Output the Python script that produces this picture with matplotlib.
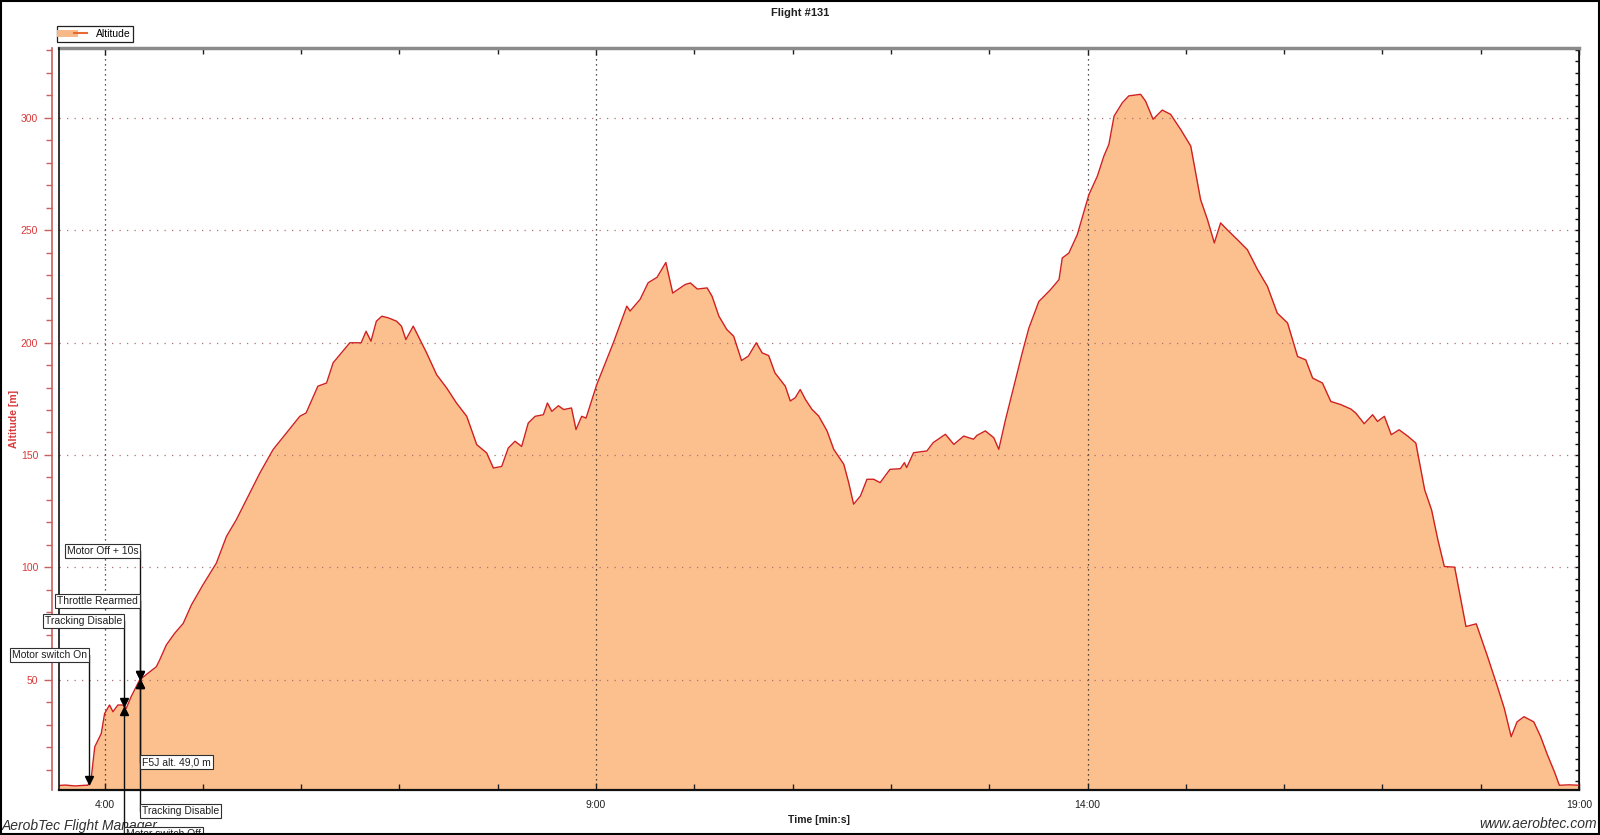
import numpy as np
import matplotlib
matplotlib.use('Agg')
import matplotlib.pyplot as plt
from matplotlib.ticker import MultipleLocator, FixedLocator, FuncFormatter
from matplotlib.lines import Line2D
from matplotlib.legend_handler import HandlerTuple
import matplotlib.transforms as mtransforms

# ---------------- data ----------------
time_min = [3.536, 3.60, 3.70, 3.80, 3.83, 3.865, 3.90, 3.966, 4.00, 4.05, 4.085, 4.135, 4.187, 4.22, 4.27,
            4.356, 4.44, 4.526, 4.56, 4.628, 4.713, 4.80, 4.883, 5.00, 5.137, 5.24, 5.34, 5.477, 5.58,
            5.714, 5.85, 5.986, 6.05, 6.17, 6.258, 6.325, 6.495, 6.61, 6.66, 6.71, 6.765, 6.82, 6.886,
            6.97, 7.02, 7.065, 7.14, 7.208, 7.276, 7.378, 7.48, 7.58, 7.684, 7.786, 7.887, 7.955, 8.04,
            8.107, 8.175, 8.243, 8.31, 8.38, 8.464, 8.505, 8.55, 8.617, 8.67, 8.75, 8.796, 8.854, 8.898,
            9.007, 9.176, 9.313, 9.346, 9.448, 9.53, 9.62, 9.71, 9.78, 9.906, 9.96, 10.03, 10.13, 10.18,
            10.25, 10.33, 10.40, 10.48, 10.55, 10.63, 10.69, 10.756, 10.82, 10.925, 10.976, 11.027,
            11.077, 11.13, 11.196, 11.265, 11.35, 11.418, 11.52, 11.57, 11.62, 11.69, 11.756, 11.824,
            11.89, 11.99, 12.096, 12.137, 12.16, 12.23, 12.366, 12.43, 12.554, 12.64, 12.74, 12.84,
            12.875, 12.96, 13.046, 13.097, 13.165, 13.25, 13.335, 13.403, 13.505, 13.54, 13.623, 13.71,
            13.743, 13.81, 13.896, 14.014, 14.10, 14.166, 14.217, 14.27, 14.355, 14.42, 14.54, 14.59,
            14.667, 14.76, 14.845, 14.947, 15.05, 15.15, 15.22, 15.29, 15.354, 15.42, 15.524, 15.626,
            15.73, 15.83, 15.93, 16.035, 16.137, 16.22, 16.29, 16.39, 16.475, 16.577, 16.68, 16.73,
            16.815, 16.90, 16.95, 17.02, 17.09, 17.17, 17.26, 17.34, 17.43, 17.50, 17.564, 17.63,
            17.735, 17.85, 17.955, 18.07, 18.17, 18.24, 18.31, 18.37, 18.44, 18.54, 18.61, 18.68,
            18.75, 18.80, 18.90, 19.00]
altitude_m = [3.0, 3.2, 2.8, 3.1, 3.1, 6.8, 20.2, 26.1, 35.0, 38.8, 35.8, 38.8, 38.8, 37.3, 42.5,
              49.9, 52.9, 55.8, 58.8, 65.5, 70.7, 75.1, 83.3, 92.2, 101.9, 113.8, 121.2, 133.1, 142.0,
              152.4, 159.8, 167.2, 168.7, 180.6, 182.0, 191.0, 199.9, 199.9, 205.0, 200.6, 209.5, 211.7, 211.0,
              209.5, 207.3, 201.3, 207.3, 201.3, 195.4, 185.7, 179.8, 173.1, 167.2, 154.6, 150.9, 144.2, 144.9,
              153.1, 156.1, 153.8, 164.2, 167.2, 167.9, 173.1, 169.4, 171.9, 170.2, 170.9, 161.3, 167.2, 166.4,
              181.3, 199.9, 216.2, 214.0, 219.2, 226.6, 229.0, 235.6, 222.0, 225.8, 226.5, 223.8, 224.3, 220.6,
              211.7, 205.8, 202.8, 192.0, 194.0, 199.9, 195.4, 194.2, 186.5, 180.6, 174.0, 175.5,
              179.1, 174.7, 170.3, 167.3, 160.7, 152.5, 145.9, 137.7, 128.1, 131.8, 139.2, 139.2,
              137.7, 143.6, 143.9, 146.6, 144.4, 151.0, 151.8, 155.5, 159.2, 154.7, 158.4, 157.0,
              158.7, 160.7, 157.7, 152.5, 165.6, 180.4, 195.3, 206.4, 218.3, 219.8, 223.5, 228.0,
              237.6, 239.8, 248.0, 265.8, 274.0, 282.9, 288.1, 300.7, 306.7, 309.7, 310.4, 307.4,
              299.3, 303.4, 301.5, 294.8, 287.4, 263.6, 254.7, 244.3, 253.2, 250.2, 245.8, 241.3,
              232.4, 225.0, 213.1, 208.7, 193.8, 192.3, 184.2, 182.0, 173.8, 172.4, 170.4, 168.6,
              163.9, 167.9, 164.9, 167.2, 159.0, 161.2, 158.3, 155.3, 134.5, 125.6, 112.3, 100.4,
              100.1, 73.7, 74.9, 60.3, 47.0, 37.3, 24.7, 31.3, 33.6, 31.3, 24.7, 16.5,
              9.1, 3.1, 3.3, 3.1]

events_upper_labels = ["Motor switch On", "Tracking Disable", "Throttle Rearmed", "Motor Off + 10s"]
events_upper_times = [3.837, 4.200, 4.363, 4.363]
events_lower_labels = ["Motor switch Off", "F5J alt. 49,0 m", "Tracking Disable"]
events_lower_times = [4.200, 4.363, 4.363]

x_major_ticks = [4, 9, 14, 19]
y_major_ticks = [50, 100, 150, 200, 250, 300]

# layout (label levels in axis units)
upper_label_levels = [61.0, 76.0, 85.2, 107.4]
lower_label_levels = [-18.5, 13.4, -8.4]

# ---------------- style ----------------
FONT = 'Liberation Sans'
plt.rcParams['font.family'] = [FONT, 'DejaVu Sans']
FILL = '#fbc08d'
LINE = '#d02020'
RED = '#d83a3a'

fig = plt.figure(figsize=(16, 8.35), dpi=100)
W, H = 1600, 835
ax = fig.add_axes([59 / W, 1 - 790 / H, (1579 - 59) / W, (790 - 48) / H])

t = np.array(time_min)
a = np.array(altitude_m)

ax.set_xlim(3.536, 19.0)
ax.set_ylim(1.0, 331.0)

ax.fill_between(t, a, 0, color=FILL, lw=0, zorder=1)
ax.plot(t, a, color=LINE, lw=1.0, zorder=3)

# grid
for yv in y_major_ticks:
    ax.axhline(yv, color='#b07070', lw=0.9, ls=(0, (1, 5)), zorder=2)
for xv in x_major_ticks:
    ax.axvline(xv, color='#202020', lw=0.9, ls=(0, (1, 3)), zorder=2)

# x axis
ax.xaxis.set_major_locator(FixedLocator(x_major_ticks))
ax.xaxis.set_minor_locator(MultipleLocator(1))
ax.xaxis.set_major_formatter(FuncFormatter(lambda v, p: f"{int(v)}:{int(round((v % 1) * 60)):02d}"))
ax.tick_params(axis='x', which='both', direction='in', top=True, bottom=True,
               labelsize=7.5, pad=7, colors='#202020')
ax.tick_params(axis='x', which='major', length=5, width=1)
ax.tick_params(axis='x', which='minor', length=4, width=1)
ax.set_xlabel('Time [min:s]', fontsize=7.5, fontweight='bold', labelpad=4, color='#202020')

# y axis (red, offset)
ax.yaxis.set_major_locator(FixedLocator(y_major_ticks))
ax.yaxis.set_minor_locator(MultipleLocator(10))
ax.spines['left'].set_position(('outward', 5))
ax.spines['left'].set_color('#c86060')
ax.spines['left'].set_linewidth(1.2)
ax.tick_params(axis='y', which='both', direction='out', colors='#c86060', labelcolor=RED,
               labelsize=7.5, pad=4)
ax.tick_params(axis='y', which='major', length=6, width=1)
ax.tick_params(axis='y', which='minor', length=4, width=1)
ax.set_ylabel('Altitude [m]', fontsize=7.5, fontweight='bold', color=RED)
ax.yaxis.set_label_coords(-0.0265, 0.5)

# frame
ax.plot([0, 0], [0, 1], transform=ax.transAxes, color='#101010', lw=1.2, clip_on=False, zorder=5)
ax.spines['top'].set_color('#8a8a8a')
ax.spines['top'].set_linewidth(2.5)
ax.spines['right'].set_color('#101010')
ax.spines['right'].set_linewidth(1.2)
ax.spines['bottom'].set_color('#101010')
ax.spines['bottom'].set_linewidth(1.6)

sec = ax.secondary_yaxis('right')
sec.yaxis.set_major_locator(MultipleLocator(5))
sec.tick_params(direction='in', length=3, width=1, labelright=False, colors='#101010')
sec.spines['right'].set_color('#101010')

# events
up_off = mtransforms.offset_copy(ax.transData, fig=fig, x=0, y=4, units='dots')
dn_off = mtransforms.offset_copy(ax.transData, fig=fig, x=0, y=-5, units='dots')
box = dict(boxstyle='square,pad=0.2', facecolor='white', edgecolor='#303030', lw=0.8)

for lab, et, lvl in zip(events_upper_labels, events_upper_times, upper_label_levels):
    yc = float(np.interp(et, t, a))
    ax.plot([et, et], [lvl, yc], color='#101010', lw=1.0, clip_on=False, zorder=6)
    ax.plot([et], [yc], marker='v', ms=6, color='black', transform=up_off, clip_on=False, zorder=7)
    ax.text(et - 0.02, lvl, lab, ha='right', va='center', fontsize=7.5, color='#202020',
            bbox=box, zorder=8, clip_on=False)

for lab, et, lvl in zip(events_lower_labels, events_lower_times, lower_label_levels):
    yc = float(np.interp(et, t, a))
    ax.plot([et, et], [yc, lvl], color='#101010', lw=1.0, clip_on=False, zorder=6)
    ax.plot([et], [yc], marker='^', ms=6, color='black', transform=dn_off, clip_on=False, zorder=7)
    ax.text(et + 0.015, lvl, lab, ha='left', va='center', fontsize=7.5, color='#202020',
            bbox=box, zorder=8, clip_on=False)

# legend
h1 = Line2D([0], [0], color='#f8b888', lw=5)
h2 = Line2D([0], [0], color='#e86a30', lw=1.5)
leg = fig.legend([(h1, h2)], ['Altitude'], handler_map={tuple: HandlerTuple(ndivide=None, pad=0)},
                 loc='lower left', bbox_to_anchor=(57 / W, 1 - 42 / H), fontsize=7.5,
                 frameon=True, fancybox=False, edgecolor='#202020', framealpha=1,
                 borderpad=0.3, handlelength=2.6, handletextpad=0.8, borderaxespad=0)
leg.get_frame().set_linewidth(0.9)

# titles / footer
fig.text(800 / W, 1 - 13 / H, 'Flight #131', ha='center', va='center', fontsize=8,
         fontweight='bold', color='#202020')
ax.text(2 / W, 1 - 826 / H, 'AerobTec Flight Manager', transform=fig.transFigure, ha='left',
        va='center', fontsize=10, style='italic', color='#303030', zorder=0.5)
fig.text(1597 / W, 1 - 824 / H, 'www.aerobtec.com', ha='right', va='center', fontsize=10,
         style='italic', color='#303030')

# figure border
fig.patches.append(plt.Rectangle((0.0005, 0.001), 0.999, 0.998, transform=fig.transFigure,
                                 fill=False, edgecolor='black', lw=1.5))

fig.savefig('out.png', dpi=100)
